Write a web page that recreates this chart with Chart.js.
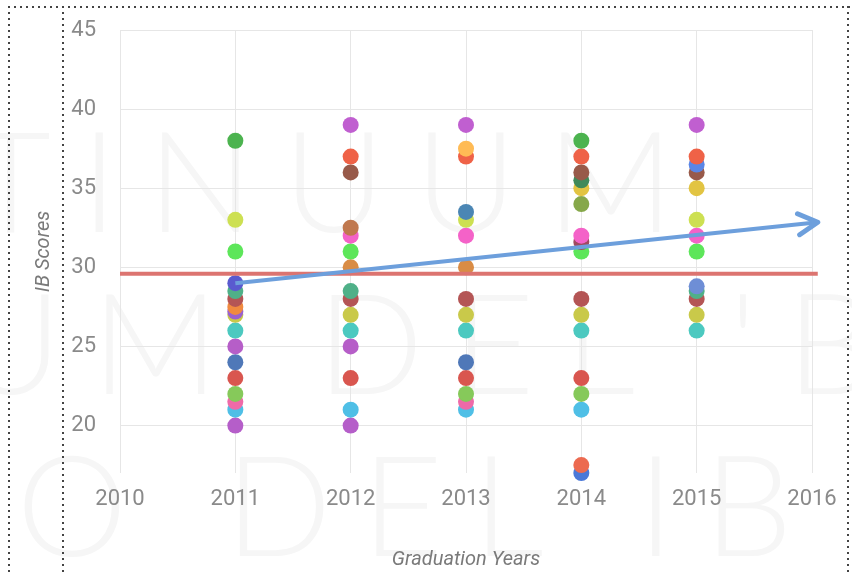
<!DOCTYPE html>
<html>
<head>
<meta charset="utf-8">
<script src="https://cdn.jsdelivr.net/npm/chart.js@4/dist/chart.umd.min.js"></script>
<style>
  body{margin:0;background:#fff;overflow:hidden}
  #wrap{position:relative;width:852px;height:576px}
  .mark{position:absolute;font-family:Lato,"Open Sans",sans-serif;font-weight:300;color:#f6f6f6;white-space:nowrap;letter-spacing:30px;font-size:140px;line-height:1}
  .dots-h{position:absolute;height:2px;background-image:repeating-linear-gradient(90deg,#444 0 2px,transparent 2px 6px)}
  .dots-v{position:absolute;width:2px;background-image:repeating-linear-gradient(180deg,#444 0 2px,transparent 2px 6px)}
  canvas{position:absolute;left:0;top:0}
</style>
</head>
<body>
<div id="wrap">
  <div class="mark" style="left:-30px;top:108px">TINUUM</div>
  <div class="mark" style="left:-40px;top:270px">UM DEL 'B</div>
  <div class="mark" style="left:-50px;top:432px">IO DEL IB</div>
  <canvas id="chart" width="852" height="576"></canvas>
  <div class="dots-h" style="left:8px;top:6px;width:844px"></div>
  <div class="dots-v" style="left:8px;top:6px;height:570px"></div>
  <div class="dots-v" style="left:62px;top:6px;height:570px"></div>
  <div class="dots-v" style="left:847px;top:6px;height:570px"></div>
</div>
<script>
const xTicks = [2010, 2011, 2012, 2013, 2014, 2015, 2016];
const yTicks = [20, 25, 30, 35, 40, 45];

const scores2011 = [38, 33, 31, 29, 28.5, 28, 27.5, 27.2, 27, 26, 25, 24, 23, 22, 21.5, 21, 20];
const scores2012 = [39, 37, 36, 32.5, 32, 31, 30, 28.5, 28, 27, 26, 25, 23, 21, 20];
const scores2013 = [39, 37.5, 37, 33.5, 33, 32, 30, 28, 27, 26, 24, 23, 22, 21.5, 21];
const scores2014 = [38, 37, 36, 35.5, 35, 34, 32, 31.6, 31, 28, 27, 26, 23, 22, 21, 17.5, 17];
const scores2015 = [39, 37, 36.5, 36, 35, 33, 32, 31, 28.8, 28.5, 28, 27, 26];

const averageLine = [[2010, 29.6], [2016.05, 29.6]];
const trendArrow = [[2011, 29], [2016.05, 32.85]];

const colorByScore = {
  '17':'#4a78d8','17.5':'#ec6a50','20':'#b55ec9','21':'#4fbfe6','21.5':'#ef6aa8','22':'#86c95a',
  '23':'#d9564f','24':'#4f78b8','25':'#b65ec8','26':'#4cc9c0','27':'#c9c94a','27.2':'#9a60d0',
  '27.5':'#f08a40','28':'#b45555','28.5':'#4fb088','28.8':'#6e8ed6','29':'#5a5acf','30':'#d98c45',
  '31':'#5de65a','31.6':'#a04a60','32':'#f462c8','32.5':'#c0784e','33':'#cde052','33.5':'#4b86b4',
  '34':'#86a84a','35':'#e2c442','35.5':'#3f8a5a','36':'#985a4a','36.5':'#5a86e6','37':'#ef6247',
  '37.5':'#ffbb55','38':'#4cb34f','39':'#c05fd0'
};

const byYear = {2011:scores2011, 2012:scores2012, 2013:scores2013, 2014:scores2014, 2015:scores2015};
const points = [];
Object.keys(byYear).forEach(yr=>{
  byYear[yr].slice().sort((a,b)=>a-b).forEach(s=>points.push({x:Number(yr), y:s}));
});

const tickFont = {family:'Roboto, "Liberation Sans", sans-serif', size:22};
const titleFont = {family:'Roboto, "Liberation Sans", sans-serif', size:20, style:'italic'};

// chevron at the end of the trend line
const arrowHead = {
  id:'arrowHead',
  afterDatasetsDraw(chart){
    const pts = chart.getDatasetMeta(0).data;
    const a = pts[pts.length-2], b = pts[pts.length-1];
    const ang = Math.atan2(b.y-a.y, b.x-a.x);
    const ctx = chart.ctx;
    ctx.save();
    ctx.strokeStyle = '#6d9fdc';
    ctx.lineWidth = 5;
    ctx.lineCap = 'round';
    ctx.lineJoin = 'round';
    ctx.beginPath();
    ctx.moveTo(b.x - 22*Math.cos(ang-0.5), b.y - 22*Math.sin(ang-0.5));
    ctx.lineTo(b.x, b.y);
    ctx.lineTo(b.x - 22*Math.cos(ang+0.5), b.y - 22*Math.sin(ang+0.5));
    ctx.stroke();
    ctx.restore();
  }
};

new Chart(document.getElementById('chart'), {
  type:'scatter',
  data:{datasets:[
    {type:'line', data:trendArrow.map(p=>({x:p[0], y:p[1]})), borderColor:'#6d9fdc', borderWidth:4, pointRadius:0, clip:false},
    {type:'line', data:averageLine.map(p=>({x:p[0], y:p[1]})), borderColor:'#dc7470', borderWidth:4, pointRadius:0, clip:false},
    {data:points, pointRadius:8, pointHoverRadius:8, borderWidth:0, clip:false,
     backgroundColor:c=>colorByScore[c.raw ? c.raw.y : 30] || '#999'}
  ]},
  options:{
    responsive:false,
    animation:false,
    events:[],
    layout:{padding:{top:30, right:40, left:30, bottom:0}},
    plugins:{legend:{display:false}, tooltip:{enabled:false}},
    scales:{
      x:{
        type:'linear', min:2010, max:2016,
        afterBuildTicks:s=>{ s.ticks = xTicks.map(v=>({value:v})); },
        afterFit:s=>{ s.height = 103; s.paddingLeft = 0; s.paddingRight = 0; },
        ticks:{color:'#8a8a8a', font:tickFont, padding:13, callback:v=>String(v)},
        grid:{color:'#e6e6e6', drawTicks:false},
        border:{display:false},
        title:{display:true, text:'Graduation Years', color:'#7a7a7a', font:titleFont, padding:4}
      },
      y:{
        min:17, max:45,
        afterBuildTicks:s=>{ s.ticks = yTicks.map(v=>({value:v})); },
        afterFit:s=>{ s.width = 90; s.paddingTop = 0; s.paddingBottom = 0; },
        ticks:{color:'#8a8a8a', font:tickFont, padding:24},
        grid:{color:'#e6e6e6', drawTicks:false},
        border:{display:false},
        title:{display:true, text:'IB Scores', color:'#7a7a7a', font:titleFont, padding:2}
      }
    }
  },
  plugins:[arrowHead]
});
</script>
</body>
</html>
